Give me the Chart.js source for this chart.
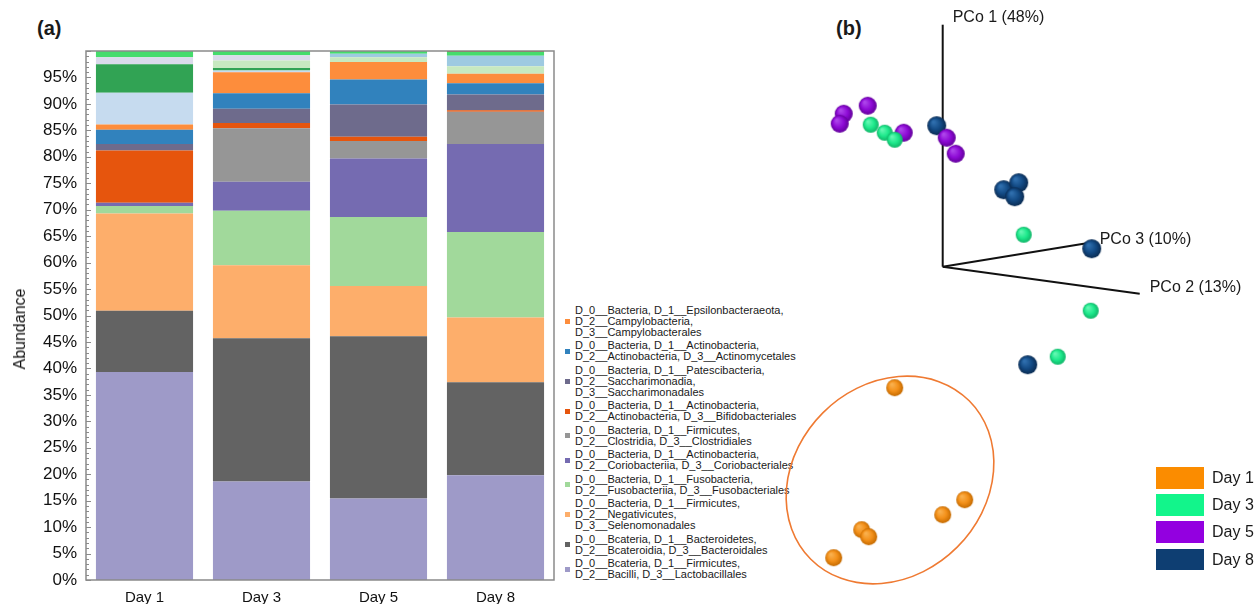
<!DOCTYPE html>
<html>
<head>
<meta charset="utf-8">
<title>Gut microbiota composition and PCoA by day</title>
<script src="https://cdn.jsdelivr.net/npm/chart.js@4.4.1/dist/chart.umd.min.js"></script>
<style>
  html, body { margin: 0; padding: 0; background: #fff; }
  body {
    width: 1255px; height: 604px; position: relative; overflow: hidden;
    font-family: "Liberation Sans", Arial, Helvetica, sans-serif; color: #1a1a1a;
  }
  #barWrap { position: absolute; left: 0; top: 0; width: 560px; height: 604px; }
  #pcoWrap { position: absolute; left: 780px; top: 0; width: 475px; height: 604px; }
  .tag { position: absolute; font-weight: bold; font-size: 20px; line-height: 24px; }
  #yTitle {
    position: absolute; left: 20px; top: 329px; font-size: 16px; line-height: 18px; color: #111;
    transform: translate(-50%, -50%) rotate(-90deg); white-space: nowrap;
  }
  #taxaLegend { position: absolute; left: 565px; top: 304.5px; font-size: 11px; line-height: 11px; color: #1a1a1a; }
  #taxaLegend .item { position: relative; padding-left: 10px; margin-bottom: 2.5px; white-space: nowrap; }
  #taxaLegend .sw { position: absolute; left: 0; top: 50%; width: 5px; height: 5px; margin-top: -2.5px; }
  #dayLegend { position: absolute; left: 1156px; top: 467px; }
  #dayLegend .item { height: 27.2px; position: relative; }
  #dayLegend .sw { position: absolute; left: 0; top: 0; width: 48px; height: 21.5px; }
  #dayLegend .lb { position: absolute; left: 56px; top: 0; font-size: 16px; line-height: 21.5px; white-space: nowrap; }
</style>
</head>
<body>
<div class="tag" style="left:37px;top:16px;">(a)</div>
<div class="tag" style="left:836px;top:16px;">(b)</div>
<div id="barWrap"><canvas id="bars" width="560" height="604"></canvas></div>
<div id="yTitle">Abundance</div>
<div id="taxaLegend"></div>
<div id="pcoWrap"><canvas id="pco" width="475" height="604"></canvas></div>
<div id="dayLegend"></div>

<script>
// ---------- relative abundance (%) per sampling day ----------
const days = ['Day 1', 'Day 3', 'Day 5', 'Day 8'];

// listed orders, bottom of the stack first
const lactobacillales    = [39.3, 18.6, 15.4, 19.8];
const bacteroidales      = [11.6, 27.1, 30.7, 17.6];
const selenomonadales    = [18.4, 13.8,  9.5, 12.2];
const fusobacteriales    = [ 1.4, 10.3, 13.0, 16.2];
const coriobacteriales   = [ 0.6,  5.5, 11.1, 16.6];
const clostridiales      = [ 0.0, 10.1,  3.3,  6.1];
const bifidobacteriales  = [ 9.9,  1.0,  0.8,  0.3];
const saccharimonadales  = [ 1.2,  2.7,  6.1,  3.0];
const actinomycetales    = [ 2.7,  2.9,  4.7,  2.1];
const campylobacterales  = [ 1.0,  4.0,  3.3,  1.8];
// minor orders stacked above (not listed in the key)
const minorA = [6.0, 0.3, 0.0, 0.0];
const minorB = [5.4, 0.5, 0.0, 0.0];
const minorC = [0.0, 1.4, 0.9, 1.4];
const minorD = [0.0, 0.0, 0.7, 2.0];
const minorE = [1.3, 1.0, 0.0, 0.0];
const minorF = [1.2, 0.8, 0.5, 0.7];
const minorG = [0.0, 0.0, 0.0, 0.2];

const yTickStep = 5;          // labelled ticks every 5 %
const yMinorStep = 1;         // small ticks every 1 %

// ---------- PCoA projection (PCo axes drawn in perspective) ----------
const day1X = [-0.48, 0.22, 0.00, -0.81, -0.74, -1.09];
const day1Y = [-1.21, -2.33, -2.48, -2.63, -2.70, -2.91];
const day3X = [-0.72, -0.58, -0.48, 0.81, 1.48, 1.15];
const day3Y = [ 1.42,  1.34,  1.27, 0.32, -0.44, -0.90];
const day5X = [-0.99, -1.03, -0.75, -0.39, 0.04, 0.13];
const day5Y = [ 1.53,  1.43,  1.61,  1.34, 1.29, 1.13];
const day8X = [-0.06, 0.61, 0.76, 0.72, 1.49, 0.85];
const day8Y = [ 1.41, 0.77, 0.84, 0.70, 0.18, -0.98];

const axisOrigin = [0, 0];
const pco1End = [0, 2.42];
const pco2End = [1.97, -0.27];
const pco3End = [1.47, 0.24];
const axisNames = ['PCo 1 (48%)', 'PCo 2 (13%)', 'PCo 3 (10%)'];

// Day 1 cluster outline
const clusterCenter = [-0.527, -2.133];
const clusterRadii = [1.12, 0.95];
const clusterTilt = -Math.PI / 4;

Chart.defaults.font.family = "'Liberation Sans', Arial, Helvetica, sans-serif";
Chart.defaults.color = '#1a1a1a';
Chart.defaults.animation = false;

// ---------- panel (a): stacked bars ----------
const taxa = [
  { data: lactobacillales,   color: '#9e9ac8', key: ['D_0__Bcateria, D_1__Firmicutes,', 'D_2__Bacilli, D_3__Lactobacillales'] },
  { data: bacteroidales,     color: '#636363', key: ['D_0__Bcateria, D_1__Bacteroidetes,', 'D_2__Bcateroidia, D_3__Bacteroidales'] },
  { data: selenomonadales,   color: '#fdae6b', key: ['D_0__Bacteria, D_1__Firmicutes,', 'D_2__Negativicutes,', 'D_3__Selenomonadales'] },
  { data: fusobacteriales,   color: '#a1d99b', key: ['D_0__Bacteria, D_1__Fusobacteria,', 'D_2__Fusobacteriia, D_3__Fusobacteriales'] },
  { data: coriobacteriales,  color: '#756bb1', key: ['D_0__Bacteria, D_1__Actinobacteria,', 'D_2__Coriobacteriia, D_3__Coriobacteriales'] },
  { data: clostridiales,     color: '#969696', key: ['D_0__Bacteria, D_1__Firmicutes,', 'D_2__Clostridia, D_3__Clostridiales'] },
  { data: bifidobacteriales, color: '#e6550d', key: ['D_0__Bacteria, D_1__Actinobacteria,', 'D_2__Actinobacteria, D_3__Bifidobacteriales'] },
  { data: saccharimonadales, color: '#6e6b8c', key: ['D_0__Bacteria, D_1__Patescibacteria,', 'D_2__Saccharimonadia,', 'D_3__Saccharimonadales'] },
  { data: actinomycetales,   color: '#3182bd', key: ['D_0__Bacteria, D_1__Actinobacteria,', 'D_2__Actinobacteria, D_3__Actinomycetales'] },
  { data: campylobacterales, color: '#fd8d3c', key: ['D_0__Bacteria, D_1__Epsilonbacteraeota,', 'D_2__Campylobacteria,', 'D_3__Campylobacterales'] },
  { data: minorA, color: '#c6dbef', key: null },
  { data: minorB, color: '#31a354', key: null },
  { data: minorC, color: '#c7e9c0', key: null },
  { data: minorD, color: '#9ecae1', key: null },
  { data: minorE, color: '#dadaeb', key: null },
  { data: minorF, color: '#45dc6c', key: null },
  { data: minorG, color: '#8c6d31', key: null }
];

const frameAndMinorTicks = {
  id: 'frameAndMinorTicks',
  afterDraw(chart) {
    const { ctx, chartArea: a, scales: { y } } = chart;
    ctx.save();
    ctx.strokeStyle = '#8a8a8a';
    ctx.lineWidth = 1;
    for (let v = y.min; v <= y.max; v += yMinorStep) {
      const py = Math.round(y.getPixelForValue(v)) + 0.5;
      const len = v % yTickStep === 0 ? 5 : 3;
      ctx.beginPath();
      ctx.moveTo(a.left, py);
      ctx.lineTo(a.left + len, py);
      ctx.stroke();
    }
    ctx.lineWidth = 1.5;
    ctx.strokeRect(a.left, a.top, a.right - a.left, a.bottom - a.top);
    ctx.restore();
  }
};

new Chart(document.getElementById('bars'), {
  type: 'bar',
  data: {
    labels: days,
    datasets: taxa.map(t => ({
      label: t.key ? t.key.join(' ') : '',
      data: t.data,
      backgroundColor: t.color,
      borderWidth: 0,
      barPercentage: 1,
      categoryPercentage: 0.83
    }))
  },
  options: {
    responsive: false,
    layout: { padding: { top: 51, right: 6, left: 0, bottom: 0 } },
    plugins: { legend: { display: false }, tooltip: { enabled: false } },
    scales: {
      x: {
        stacked: true,
        grid: { display: false, drawTicks: false },
        border: { display: false },
        ticks: { font: { size: 15 }, color: '#111', padding: 9 },
        afterFit(s) { s.height = 24; }
      },
      y: {
        stacked: true,
        min: 0, max: 100,
        grid: { display: false, drawTicks: false },
        border: { display: false },
        ticks: {
          stepSize: yMinorStep, autoSkip: false, padding: 9,
          font: { size: 17 }, color: '#111',
          callback: v => (v % yTickStep === 0 && v < 100) ? v + '%' : ''
        },
        afterFit(s) { s.width = 86; }
      }
    }
  },
  plugins: [frameAndMinorTicks]
});

// key for the listed orders, top of the stack first
const keyBox = document.getElementById('taxaLegend');
taxa.filter(t => t.key).slice().reverse().forEach(t => {
  const item = document.createElement('div');
  item.className = 'item';
  const sw = document.createElement('span');
  sw.className = 'sw';
  sw.style.background = t.color;
  item.appendChild(sw);
  t.key.forEach(line => {
    const d = document.createElement('div');
    d.textContent = line;
    item.appendChild(d);
  });
  keyBox.appendChild(item);
});

// ---------- panel (b): PCoA ----------
const groups = [
  { label: 'Day 1', xs: day1X, ys: day1Y, swatch: '#fb8c00', base: '#f39019', light: '#f9b04e', dark: '#c46a00', r: 8.5 },
  { label: 'Day 3', xs: day3X, ys: day3Y, swatch: '#12f58b', base: '#1ee98c', light: '#63f7b2', dark: '#0fb467', r: 8 },
  { label: 'Day 5', xs: day5X, ys: day5Y, swatch: '#9300e0', base: '#8e0bd6', light: '#ad45ea', dark: '#62009a', r: 9 },
  { label: 'Day 8', xs: day8X, ys: day8Y, swatch: '#0e3e72', base: '#134a84', light: '#2f6fae', dark: '#0a2b52', r: 9.5 }
];

function sphere(g) {
  const size = Math.ceil(g.r * 2 + 2);
  const c = document.createElement('canvas');
  c.width = size; c.height = size;
  const x = c.getContext('2d');
  const m = size / 2;
  const grad = x.createRadialGradient(m - g.r * 0.35, m - g.r * 0.4, g.r * 0.1, m, m, g.r);
  grad.addColorStop(0, g.light);
  grad.addColorStop(0.55, g.base);
  grad.addColorStop(1, g.dark);
  x.fillStyle = grad;
  x.beginPath();
  x.arc(m, m, g.r, 0, Math.PI * 2);
  x.fill();
  return c;
}

const axisLine = (end) => ({
  data: [{ x: axisOrigin[0], y: axisOrigin[1] }, { x: end[0], y: end[1] }],
  showLine: true, borderColor: '#111', borderWidth: 2, pointRadius: 0, order: 10
});

const axisAndCluster = {
  id: 'axisAndCluster',
  beforeDatasetsDraw(chart) {
    const { ctx, scales: { x, y } } = chart;
    const cx = x.getPixelForValue(clusterCenter[0]);
    const cy = y.getPixelForValue(clusterCenter[1]);
    const rx = x.getPixelForValue(clusterCenter[0] + clusterRadii[0]) - cx;
    const ry = x.getPixelForValue(clusterCenter[0] + clusterRadii[1]) - cx;
    ctx.save();
    ctx.strokeStyle = '#ef7a32';
    ctx.lineWidth = 1.6;
    ctx.beginPath();
    ctx.ellipse(cx, cy, rx, ry, clusterTilt, 0, Math.PI * 2);
    ctx.stroke();
    ctx.restore();
  },
  afterDraw(chart) {
    const { ctx, scales: { x, y } } = chart;
    ctx.save();
    ctx.font = "16px 'Liberation Sans', Arial, sans-serif";
    ctx.fillStyle = '#1a1a1a';
    ctx.textBaseline = 'middle';
    ctx.textAlign = 'left';
    ctx.fillText(axisNames[0], x.getPixelForValue(pco1End[0]) + 10, y.getPixelForValue(pco1End[1]) - 7);
    ctx.fillText(axisNames[1], x.getPixelForValue(pco2End[0]) + 10, y.getPixelForValue(pco2End[1]) - 6);
    ctx.fillText(axisNames[2], x.getPixelForValue(pco3End[0]) + 10, y.getPixelForValue(pco3End[1]) - 3);
    ctx.restore();
  }
};

new Chart(document.getElementById('pco'), {
  type: 'scatter',
  data: {
    datasets: [
      axisLine(pco1End), axisLine(pco2End), axisLine(pco3End),
      ...groups.map(g => ({
        label: g.label,
        data: g.xs.map((v, i) => ({ x: v, y: g.ys[i] })),
        pointStyle: sphere(g),
        pointRadius: g.r,
        backgroundColor: g.base,
        order: 0
      }))
    ]
  },
  options: {
    responsive: false,
    layout: { padding: 0, autoPadding: false },
    plugins: { legend: { display: false }, tooltip: { enabled: false } },
    scales: {
      x: { type: 'linear', display: false, min: -1.627, max: 3.123 },
      y: { type: 'linear', display: false, min: -3.373, max: 2.667 }
    }
  },
  plugins: [axisAndCluster]
});

const dayBox = document.getElementById('dayLegend');
groups.forEach(g => {
  const item = document.createElement('div');
  item.className = 'item';
  const sw = document.createElement('span');
  sw.className = 'sw';
  sw.style.background = g.swatch;
  const lb = document.createElement('span');
  lb.className = 'lb';
  lb.textContent = g.label;
  item.appendChild(sw);
  item.appendChild(lb);
  dayBox.appendChild(item);
});
</script>
</body>
</html>
